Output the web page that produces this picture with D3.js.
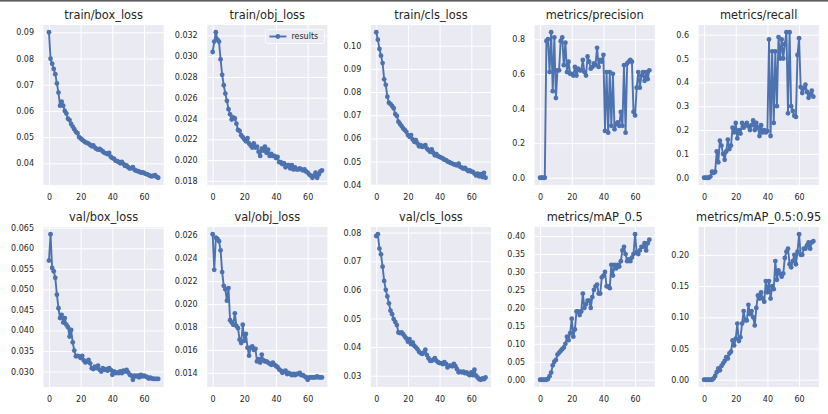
<!DOCTYPE html>
<html><head><meta charset="utf-8">
<script src="https://cdn.jsdelivr.net/npm/d3@7"></script>
<style>
body{margin:0;background:#fff}
svg{display:block}
text{font-family:"DejaVu Sans",sans-serif;fill:#262626}
</style>
</head><body>
<svg id="chart" width="828" height="414"></svg>
<script>
const epochs = [0,1,2,3,4,5,6,7,8,9,10,11,12,13,14,15,16,17,18,19,20,21,22,23,24,25,26,27,28,29,30,31,32,33,34,35,36,37,38,39,40,41,42,43,44,45,46,47,48,49,50,51,52,53,54,55,56,57,58,59,60,61,62,63,64,65,66,67,68,69];

const trainBoxLoss = [0.0900,0.0799,0.0780,0.0760,0.0740,0.0705,0.0670,0.0620,0.0635,0.0620,
 0.0600,0.0590,0.0570,0.0565,0.0550,0.0540,0.0530,0.0520,0.0515,0.0500,
 0.0495,0.0490,0.0485,0.0480,0.0478,0.0475,0.0470,0.0465,0.0468,0.0460,
 0.0455,0.0452,0.0455,0.0450,0.0445,0.0440,0.0438,0.0435,0.0440,0.0425,
 0.0420,0.0418,0.0410,0.0408,0.0405,0.0400,0.0405,0.0398,0.0390,0.0392,
 0.0385,0.0380,0.0382,0.0385,0.0375,0.0372,0.0370,0.0368,0.0365,0.0365,
 0.0363,0.0360,0.0358,0.0355,0.0352,0.0350,0.0353,0.0355,0.0348,0.0345];

const trainObjLoss = [0.0304,0.0314,0.0323,0.0316,0.0314,0.0297,0.0282,0.0272,0.0264,0.0257,
 0.0249,0.0244,0.0239,0.0241,0.0240,0.0235,0.0229,0.0228,0.0224,0.0222,
 0.0220,0.0218,0.0221,0.0216,0.0214,0.0212,0.0216,0.0212,0.0213,0.0208,
 0.0204,0.0211,0.0209,0.0213,0.0207,0.0210,0.0204,0.0206,0.0204,0.0204,
 0.0202,0.0203,0.0198,0.0198,0.0196,0.0197,0.0193,0.0195,0.0195,0.0192,
 0.0195,0.0191,0.0193,0.0191,0.0191,0.0192,0.0191,0.0190,0.0191,0.0189,
 0.0188,0.0186,0.0185,0.0183,0.0185,0.0188,0.0183,0.0186,0.0189,0.0190];

const trainClsLoss = [0.1058,0.1026,0.0986,0.0957,0.0925,0.0855,0.0831,0.0780,0.0754,0.0748,
 0.0740,0.0730,0.0705,0.0697,0.0672,0.0662,0.0653,0.0643,0.0636,0.0628,
 0.0614,0.0607,0.0614,0.0595,0.0585,0.0592,0.0578,0.0566,0.0571,0.0563,
 0.0566,0.0571,0.0556,0.0549,0.0542,0.0552,0.0538,0.0527,0.0532,0.0523,
 0.0520,0.0517,0.0513,0.0508,0.0506,0.0500,0.0497,0.0494,0.0491,0.0488,
 0.0486,0.0483,0.0491,0.0477,0.0474,0.0469,0.0472,0.0465,0.0459,0.0462,
 0.0456,0.0455,0.0448,0.0440,0.0448,0.0436,0.0445,0.0433,0.0451,0.0430];

const precision = [0,0,0,0,0.79,0.80,0.61,0.84,0.50,0.81,
 0.46,0.62,0.62,0.79,0.81,0.65,0.78,0.61,0.67,0.60,
 0.60,0.59,0.64,0.59,0.63,0.62,0.62,0.68,0.61,0.59,
 0.70,0.67,0.63,0.64,0.66,0.65,0.75,0.64,0.68,0.67,
 0.71,0.27,0.61,0.26,0.61,0.30,0.60,0.28,0.31,0.32,
 0.30,0.38,0.30,0.65,0.26,0.66,0.67,0.68,0.67,0.38,
 0.36,0.52,0.61,0.52,0.59,0.61,0.56,0.61,0.57,0.62];

const recall = [0,0,0,0,0.005,0.025,0.02,0.025,0.11,0.065,
 0.155,0.135,0.10,0.075,0.11,0.16,0.12,0.135,0.21,0.19,
 0.23,0.165,0.20,0.185,0.23,0.21,0.22,0.23,0.215,0.20,
 0.22,0.24,0.20,0.23,0.21,0.175,0.22,0.19,0.20,0.19,
 0.195,0.58,0.175,0.53,0.23,0.53,0.30,0.59,0.50,0.58,
 0.50,0.56,0.61,0.27,0.61,0.30,0.28,0.26,0.255,0.515,
 0.585,0.38,0.355,0.375,0.39,0.36,0.335,0.35,0.365,0.34];

const valBoxLoss = [0.0570,0.0634,0.0552,0.0544,0.0528,0.0487,0.0454,0.0430,0.0438,0.0419,
 0.0430,0.0414,0.0408,0.0385,0.0401,0.0371,0.0351,0.0337,0.0338,0.0337,
 0.0333,0.0338,0.0327,0.0322,0.0324,0.0328,0.0320,0.0308,0.0306,0.0312,
 0.0308,0.0314,0.0304,0.0300,0.0308,0.0304,0.0306,0.0302,0.0308,0.0304,
 0.0292,0.0300,0.0296,0.0298,0.0296,0.0300,0.0296,0.0302,0.0300,0.0304,
 0.0298,0.0292,0.0290,0.0280,0.0290,0.0288,0.0290,0.0286,0.0292,0.0288,
 0.0290,0.0288,0.0286,0.0283,0.0285,0.0283,0.0282,0.0282,0.0282,0.0282];

const valObjLoss = [0.0261,0.0230,0.0258,0.0257,0.0255,0.0247,0.0228,0.0216,0.0213,0.0203,
 0.0214,0.0186,0.0184,0.0182,0.0192,0.0181,0.0179,0.0169,0.0166,0.0182,
 0.0168,0.0174,0.0162,0.0155,0.0162,0.0163,0.0160,0.0161,0.0150,0.0152,
 0.0149,0.0156,0.0151,0.0150,0.0150,0.0149,0.0148,0.0147,0.0149,0.0147,
 0.0146,0.0145,0.0143,0.0142,0.0140,0.0141,0.0142,0.0139,0.0140,0.0139,
 0.0138,0.0139,0.0138,0.0139,0.0139,0.0140,0.0138,0.0138,0.0137,0.0136,
 0.0134,0.0136,0.0136,0.0136,0.0136,0.0136,0.0137,0.0136,0.0136,0.0136];

const valClsLoss = [0.0788,0.0794,0.0744,0.0724,0.0681,0.0631,0.0600,0.0577,0.0553,0.0527,
 0.0515,0.0498,0.0488,0.0477,0.0451,0.0449,0.0451,0.0445,0.0437,0.0430,
 0.0419,0.0428,0.0410,0.0416,0.0405,0.0399,0.0393,0.0384,0.0379,0.0376,
 0.0381,0.0391,0.0372,0.0361,0.0352,0.0352,0.0356,0.0361,0.0352,0.0347,
 0.0344,0.0344,0.0341,0.0347,0.0341,0.0329,0.0335,0.0335,0.0333,0.0341,
 0.0333,0.0323,0.0312,0.0314,0.0312,0.0314,0.0309,0.0312,0.0306,0.0302,
 0.0312,0.0302,0.0321,0.0300,0.0294,0.0288,0.0286,0.0291,0.0288,0.0294];

const mAP50 = [0,0,0,0,0,0.002,0.01,0.02,0.04,0.05,
 0.055,0.07,0.075,0.08,0.085,0.09,0.10,0.12,0.11,0.13,
 0.17,0.12,0.14,0.19,0.19,0.18,0.19,0.24,0.20,0.21,
 0.22,0.22,0.20,0.23,0.25,0.26,0.265,0.24,0.24,0.285,
 0.29,0.30,0.26,0.26,0.255,0.32,0.29,0.32,0.31,0.32,
 0.315,0.33,0.36,0.37,0.35,0.33,0.335,0.33,0.34,0.35,
 0.405,0.355,0.35,0.36,0.37,0.37,0.38,0.36,0.38,0.39];

const mAP5095 = [0,0,0,0,0,0,0.002,0.006,0.012,0.018,
 0.015,0.022,0.026,0.030,0.036,0.034,0.042,0.045,0.063,0.055,
 0.066,0.090,0.062,0.068,0.090,0.110,0.095,0.095,0.120,0.105,
 0.110,0.100,0.087,0.115,0.135,0.130,0.140,0.130,0.125,0.158,
 0.140,0.158,0.130,0.150,0.145,0.190,0.160,0.175,0.170,0.165,
 0.170,0.195,0.205,0.210,0.185,0.180,0.190,0.200,0.185,0.205,
 0.233,0.200,0.200,0.210,0.210,0.215,0.220,0.210,0.220,0.222];

const titles = ["train/box_loss","train/obj_loss","train/cls_loss","metrics/precision","metrics/recall",
                "val/box_loss","val/obj_loss","val/cls_loss","metrics/mAP_0.5","metrics/mAP_0.5:0.95"];
const seriesList = [trainBoxLoss,trainObjLoss,trainClsLoss,precision,recall,
                    valBoxLoss,valObjLoss,valClsLoss,mAP50,mAP5095];
const xTicks = [0,20,40,60];
const yTickLabels = [
  ["0.04","0.05","0.06","0.07","0.08","0.09"],
  ["0.018","0.020","0.022","0.024","0.026","0.028","0.030","0.032"],
  ["0.04","0.05","0.06","0.07","0.08","0.09","0.10"],
  ["0.0","0.2","0.4","0.6","0.8"],
  ["0.0","0.1","0.2","0.3","0.4","0.5","0.6"],
  ["0.030","0.035","0.040","0.045","0.050","0.055","0.060","0.065"],
  ["0.014","0.016","0.018","0.020","0.022","0.024","0.026"],
  ["0.03","0.04","0.05","0.06","0.07","0.08"],
  ["0.00","0.05","0.10","0.15","0.20","0.25","0.30","0.35","0.40"],
  ["0.00","0.05","0.10","0.15","0.20"]
];
const legendLabel = "results";

const COLOR = "#4C72B0";
const svg = d3.select("#chart");
svg.append("rect").attr("x",0).attr("y",0).attr("width",828).attr("height",1.6).attr("fill","#5c5c5c");

const pw = 120.2, ph = 160;
const lefts = [43.5, 207.2, 370.8, 534.6, 698.6];
const tops = [25, 227];

seriesList.forEach((vals, i) => {
  const col = i % 5, row = Math.floor(i / 5);
  const x0 = lefts[col], y0 = tops[row];
  const g = svg.append("g").attr("transform", `translate(${x0},${y0})`);
  const xr = d3.extent(epochs), xp = (xr[1]-xr[0])*0.05;
  const yr = d3.extent(vals), yp = (yr[1]-yr[0])*0.05;
  const x = d3.scaleLinear().domain([xr[0]-xp, xr[1]+xp]).range([0, pw]);
  const y = d3.scaleLinear().domain([yr[0]-yp, yr[1]+yp]).range([ph, 0]);

  g.append("rect").attr("width", pw).attr("height", ph).attr("fill", "#EAEAF2");

  const ytLab = yTickLabels[i].filter(s => { const v = +s; return v >= y.domain()[0] && v <= y.domain()[1]; });
  const yt = ytLab.map(Number);

  const gx = g.append("g").attr("transform", `translate(0,${ph})`)
    .call(d3.axisBottom(x).tickValues(xTicks).tickSize(-ph).tickPadding(9).tickFormat(d3.format("d")));
  gx.select(".domain").remove();
  gx.selectAll("line").attr("stroke", "#fff").attr("stroke-width", 1);
  gx.selectAll("text").attr("font-size", 8).attr("fill", "#262626").attr("font-family", "DejaVu Sans");

  const gy = g.append("g")
    .call(d3.axisLeft(y).tickValues(yt).tickSize(-pw).tickPadding(9.5).tickFormat((d, k) => ytLab[k]));
  gy.select(".domain").remove();
  gy.selectAll("line").attr("stroke", "#fff").attr("stroke-width", 1);
  gy.selectAll("text").attr("font-size", 8).attr("fill", "#262626").attr("font-family", "DejaVu Sans");

  const pts = epochs.map((e, k) => [e, vals[k]]);
  g.append("path").datum(pts)
    .attr("fill", "none").attr("stroke", COLOR).attr("stroke-width", 1.9).attr("stroke-linejoin", "round")
    .attr("d", d3.line().x(d => x(d[0])).y(d => y(d[1])));
  g.append("g").selectAll("circle").data(pts).join("circle")
    .attr("cx", d => x(d[0])).attr("cy", d => y(d[1])).attr("r", 2.4).attr("fill", COLOR);

  g.append("text").attr("x", pw/2).attr("y", -5.8).attr("text-anchor", "middle")
    .attr("font-size", 11.4).text(titles[i]);

  if (i === 1) {
    const lg = g.append("g").attr("transform", `translate(${pw - 62},4.5)`);
    lg.append("rect").attr("width", 59).attr("height", 14).attr("rx", 2)
      .attr("fill", "#EAEAF2").attr("fill-opacity", 0.8).attr("stroke", "#ffffff").attr("stroke-width", 0.8);
    lg.append("line").attr("x1", 4).attr("x2", 21).attr("y1", 7).attr("y2", 7)
      .attr("stroke", COLOR).attr("stroke-width", 1.9);
    lg.append("circle").attr("cx", 12.5).attr("cy", 7).attr("r", 2.4).attr("fill", COLOR);
    lg.append("text").attr("x", 26).attr("y", 9.8).attr("font-size", 8).text(legendLabel);
  }
});
</script>
</body></html>
